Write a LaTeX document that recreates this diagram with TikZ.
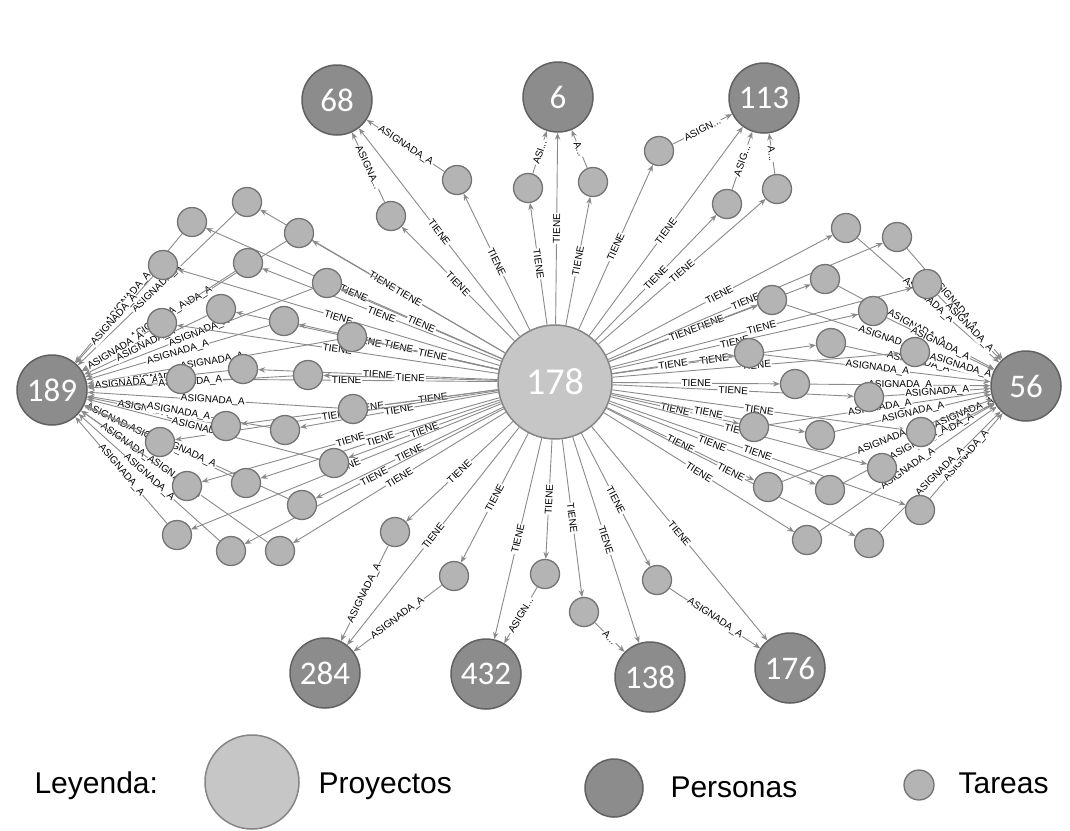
\documentclass[tikz,border=0pt]{standalone}
\usepackage{fontspec}
\setmainfont{Liberation Sans}
\newfontfamily\numfont{Carlito}
\usepackage{tikz}
\usetikzlibrary{arrows.meta,backgrounds}
\definecolor{projgray}{HTML}{C6C6C6}
\definecolor{persgray}{HTML}{8C8C8C}
\definecolor{taskgray}{HTML}{B4B4B4}
\definecolor{edgegray}{HTML}{8A8A8A}

\begin{document}
\begin{tikzpicture}[x=1pt,y=-1pt,>={Stealth[length=7pt,width=5.5pt]},
  proyecto/.style={circle,draw=black!48,line width=1.5pt,fill=projgray,minimum size=114pt,inner sep=0pt,text=white,font=\numfont\fontsize{38}{40}\selectfont},
  persona/.style={circle,draw=black!62,line width=1.5pt,fill=persgray,minimum size=70pt,inner sep=0pt,text=white,font=\numfont\fontsize{33}{35}\selectfont},
  tarea/.style={circle,draw=black!55,line width=1.3pt,fill=taskgray,minimum size=29pt,inner sep=0pt},
  rel/.style={->,draw=edgegray,line width=0.9pt},
  lbl/.style={sloped,fill=white,inner sep=0.8pt,font=\fontsize{10}{11}\selectfont},
  leyenda/.style={anchor=base west,font=\fontsize{30}{32}\selectfont}]
\useasboundingbox (0,0) rectangle (1070,830);

% proyecto y personas
\node[proyecto] (P) at (555,382) {178};
\node[persona] (U68) at (337,100) {68};
\node[persona] (U6) at (558,97) {6};
\node[persona] (U113) at (764,98) {113};
\node[persona] (U189) at (52,390) {189};
\node[persona] (U56) at (1026,386) {56};
\node[persona] (U284) at (325,673) {284};
\node[persona] (U432) at (486,674) {432};
\node[persona] (U138) at (650,677) {138};
\node[persona] (U176) at (790,668) {176};

% tareas izquierda
\node[tarea] (T1) at (247,202) {};
\node[tarea] (T2) at (192,222) {};
\node[tarea] (T3) at (299,233) {};
\node[tarea] (T4) at (163,265) {};
\node[tarea] (T5) at (248,263) {};
\node[tarea] (T6) at (327,283) {};
\node[tarea] (T7) at (162,323) {};
\node[tarea] (T8) at (221,309) {};
\node[tarea] (T9) at (284,321) {};
\node[tarea] (T10) at (352,337) {};
\node[tarea] (T11) at (243,369) {};
\node[tarea] (T12) at (181,379) {};
\node[tarea] (T13) at (308,375) {};
\node[tarea] (T14) at (353,409) {};
\node[tarea] (T15) at (226,426) {};
\node[tarea] (T16) at (285,430) {};
\node[tarea] (T17) at (160,442) {};
\node[tarea] (T18) at (334,463) {};
\node[tarea] (T19) at (246,483) {};
\node[tarea] (T20) at (187,486) {};
\node[tarea] (T21) at (302,505) {};
\node[tarea] (T22) at (177,535) {};
\node[tarea] (T23) at (231,551) {};
\node[tarea] (T24) at (280,551) {};

% tareas derecha
\node[tarea] (T25) at (846,228) {};
\node[tarea] (T26) at (897,237) {};
\node[tarea] (T27) at (825,279) {};
\node[tarea] (T28) at (772,300) {};
\node[tarea] (T29) at (927,284) {};
\node[tarea] (T30) at (873,311) {};
\node[tarea] (T31) at (831,343) {};
\node[tarea] (T32) at (749,353) {};
\node[tarea] (T33) at (915,352) {};
\node[tarea] (T34) at (795,384) {};
\node[tarea] (T35) at (869,397) {};
\node[tarea] (T36) at (754,427) {};
\node[tarea] (T37) at (820,435) {};
\node[tarea] (T38) at (921,432) {};
\node[tarea] (T39) at (882,468) {};
\node[tarea] (T40) at (768,487) {};
\node[tarea] (T41) at (830,490) {};
\node[tarea] (T42) at (920,510) {};
\node[tarea] (T43) at (807,540) {};
\node[tarea] (T44) at (869,543) {};

% tareas arriba y abajo
\node[tarea] (T45) at (457,180) {};
\node[tarea] (T46) at (391,216) {};
\node[tarea] (T47) at (528,188) {};
\node[tarea] (T48) at (593,182) {};
\node[tarea] (T49) at (659,151) {};
\node[tarea] (T50) at (727,204) {};
\node[tarea] (T51) at (777,189) {};
\node[tarea] (T52) at (395,532) {};
\node[tarea] (T53) at (454,576) {};
\node[tarea] (T54) at (545,574) {};
\node[tarea] (T55) at (584,612) {};
\node[tarea] (T56) at (657,580) {};

\begin{scope}[on background layer]
% izquierda -> 189
\draw[rel] (P) -- node[lbl] {TIENE} (T1);  \draw[rel] (T1) -- node[lbl] {ASIGNADA\_A} (U189);
\draw[rel] (P) -- node[lbl] {TIENE} (T2);  \draw[rel] (T2) -- node[lbl] {ASIGNADA\_A} (U189);
\draw[rel] (P) -- node[lbl] {TIENE} (T3);  \draw[rel] (T3) -- node[lbl] {ASIGNADA\_A} (U189);
\draw[rel] (P) -- node[lbl] {TIENE} (T4);  \draw[rel] (T4) -- node[lbl] {ASIGNADA\_A} (U189);
\draw[rel] (P) -- node[lbl] {TIENE} (T5);  \draw[rel] (T5) -- node[lbl] {ASIGNADA\_A} (U189);
\draw[rel] (P) -- node[lbl] {TIENE} (T6);  \draw[rel] (T6) -- node[lbl] {ASIGNADA\_A} (U189);
\draw[rel] (P) -- node[lbl] {TIENE} (T7);  \draw[rel] (T7) -- node[lbl] {ASIGNADA\_A} (U189);
\draw[rel] (P) -- node[lbl] {TIENE} (T8);  \draw[rel] (T8) -- node[lbl] {ASIGNADA\_A} (U189);
\draw[rel] (P) -- node[lbl] {TIENE} (T9);  \draw[rel] (T9) -- node[lbl] {ASIGNADA\_A} (U189);
\draw[rel] (P) -- node[lbl] {TIENE} (T10); \draw[rel] (T10) -- node[lbl] {ASIGNADA\_A} (U189);
\draw[rel] (P) -- node[lbl] {TIENE} (T11); \draw[rel] (T11) -- node[lbl] {ASIGNADA\_A} (U189);
\draw[rel] (P) -- node[lbl] {TIENE} (T12); \draw[rel] (T12) -- node[lbl] {ASIGNADA\_A} (U189);
\draw[rel] (P) -- node[lbl] {TIENE} (T13); \draw[rel] (T13) -- node[lbl] {ASIGNADA\_A} (U189);
\draw[rel] (P) -- node[lbl] {TIENE} (T14); \draw[rel] (T14) -- node[lbl] {ASIGNADA\_A} (U189);
\draw[rel] (P) -- node[lbl] {TIENE} (T15); \draw[rel] (T15) -- node[lbl] {ASIGNADA\_A} (U189);
\draw[rel] (P) -- node[lbl] {TIENE} (T16); \draw[rel] (T16) -- node[lbl] {ASIGNADA\_A} (U189);
\draw[rel] (P) -- node[lbl] {TIENE} (T17); \draw[rel] (T17) -- node[lbl] {ASIGNADA\_A} (U189);
\draw[rel] (P) -- node[lbl] {TIENE} (T18); \draw[rel] (T18) -- node[lbl] {ASIGNADA\_A} (U189);
\draw[rel] (P) -- node[lbl] {TIENE} (T19); \draw[rel] (T19) -- node[lbl] {ASIGNADA\_A} (U189);
\draw[rel] (P) -- node[lbl] {TIENE} (T20); \draw[rel] (T20) -- node[lbl] {ASIGNADA\_A} (U189);
\draw[rel] (P) -- node[lbl] {TIENE} (T21); \draw[rel] (T21) -- node[lbl] {ASIGNADA\_A} (U189);
\draw[rel] (P) -- node[lbl] {TIENE} (T22); \draw[rel] (T22) -- node[lbl] {ASIGNADA\_A} (U189);
\draw[rel] (P) -- node[lbl] {TIENE} (T23); \draw[rel] (T23) -- node[lbl] {ASIGNADA\_A} (U189);
\draw[rel] (P) -- node[lbl] {TIENE} (T24); \draw[rel] (T24) -- node[lbl] {ASIGNADA\_A} (U189);
% derecha -> 56
\draw[rel] (P) -- node[lbl] {TIENE} (T25); \draw[rel] (T25) -- node[lbl] {ASIGNADA\_A} (U56);
\draw[rel] (P) -- node[lbl] {TIENE} (T26); \draw[rel] (T26) -- node[lbl] {ASIGNADA\_A} (U56);
\draw[rel] (P) -- node[lbl] {TIENE} (T27); \draw[rel] (T27) -- node[lbl] {ASIGNADA\_A} (U56);
\draw[rel] (P) -- node[lbl] {TIENE} (T28); \draw[rel] (T28) -- node[lbl] {ASIGNADA\_A} (U56);
\draw[rel] (P) -- node[lbl] {TIENE} (T29); \draw[rel] (T29) -- node[lbl] {ASIGNADA\_A} (U56);
\draw[rel] (P) -- node[lbl] {TIENE} (T30); \draw[rel] (T30) -- node[lbl] {ASIGNADA\_A} (U56);
\draw[rel] (P) -- node[lbl] {TIENE} (T31); \draw[rel] (T31) -- node[lbl] {ASIGNADA\_A} (U56);
\draw[rel] (P) -- node[lbl] {TIENE} (T32); \draw[rel] (T32) -- node[lbl] {ASIGNADA\_A} (U56);
\draw[rel] (P) -- node[lbl] {TIENE} (T33); \draw[rel] (T33) -- node[lbl] {ASIGNADA\_A} (U56);
\draw[rel] (P) -- node[lbl] {TIENE} (T34); \draw[rel] (T34) -- node[lbl] {ASIGNADA\_A} (U56);
\draw[rel] (P) -- node[lbl] {TIENE} (T35); \draw[rel] (T35) -- node[lbl] {ASIGNADA\_A} (U56);
\draw[rel] (P) -- node[lbl] {TIENE} (T36); \draw[rel] (T36) -- node[lbl] {ASIGNADA\_A} (U56);
\draw[rel] (P) -- node[lbl] {TIENE} (T37); \draw[rel] (T37) -- node[lbl] {ASIGNADA\_A} (U56);
\draw[rel] (P) -- node[lbl] {TIENE} (T38); \draw[rel] (T38) -- node[lbl] {ASIGNADA\_A} (U56);
\draw[rel] (P) -- node[lbl] {TIENE} (T39); \draw[rel] (T39) -- node[lbl] {ASIGNADA\_A} (U56);
\draw[rel] (P) -- node[lbl] {TIENE} (T40); \draw[rel] (T40) -- node[lbl] {ASIGNADA\_A} (U56);
\draw[rel] (P) -- node[lbl] {TIENE} (T41); \draw[rel] (T41) -- node[lbl] {ASIGNADA\_A} (U56);
\draw[rel] (P) -- node[lbl] {TIENE} (T42); \draw[rel] (T42) -- node[lbl] {ASIGNADA\_A} (U56);
\draw[rel] (P) -- node[lbl] {TIENE} (T43); \draw[rel] (T43) -- node[lbl] {ASIGNADA\_A} (U56);
\draw[rel] (P) -- node[lbl] {TIENE} (T44); \draw[rel] (T44) -- node[lbl] {ASIGNADA\_A} (U56);
% arriba
\draw[rel] (P) -- node[lbl] {TIENE} (U68);
\draw[rel] (P) -- node[lbl] {TIENE} (T45); \draw[rel] (T45) -- node[lbl] {ASIGNADA\_A} (U68);
\draw[rel] (P) -- node[lbl] {TIENE} (T46); \draw[rel] (T46) -- node[lbl] {ASIGNA...} (U68);
\draw[rel] (P) -- node[lbl] {TIENE} (U6);
\draw[rel] (P) -- node[lbl] {TIENE} (T47); \draw[rel] (T47) -- node[lbl] {ASI...} (U6);
\draw[rel] (P) -- node[lbl] {TIENE} (T48); \draw[rel] (T48) -- node[lbl] {A...} (U6);
\draw[rel] (P) -- node[lbl] {TIENE} (U113);
\draw[rel] (P) -- node[lbl] {TIENE} (T49); \draw[rel] (T49) -- node[lbl] {ASIGN...} (U113);
\draw[rel] (P) -- node[lbl] {TIENE} (T50); \draw[rel] (T50) -- node[lbl] {ASIG...} (U113);
\draw[rel] (P) -- node[lbl] {TIENE} (T51); \draw[rel] (T51) -- node[lbl] {A...} (U113);
% abajo
\draw[rel] (P) -- node[lbl] {TIENE} (U284);
\draw[rel] (P) -- node[lbl] {TIENE} (T52); \draw[rel] (T52) -- node[lbl] {ASIGNADA\_A} (U284);
\draw[rel] (P) -- node[lbl] {TIENE} (T53); \draw[rel] (T53) -- node[lbl] {ASIGNADA\_A} (U284);
\draw[rel] (P) -- node[lbl] {TIENE} (U432);
\draw[rel] (P) -- node[lbl] {TIENE} (T54); \draw[rel] (T54) -- node[lbl] {ASIGN...} (U432);
\draw[rel] (P) -- node[lbl] {TIENE} (U138);
\draw[rel] (P) -- node[lbl] {TIENE} (T55); \draw[rel] (T55) -- node[lbl] {A...} (U138);
\draw[rel] (P) -- node[lbl] {TIENE} (U176);
\draw[rel] (P) -- node[lbl] {TIENE} (T56); \draw[rel] (T56) -- node[lbl] {ASIGNADA\_A} (U176);
\end{scope}

% leyenda
\node[leyenda] (L0) at (31,793) {Leyenda:};
\node[proyecto,minimum size=94pt] (L1) at (252,782) {};
\node[leyenda] (L2) at (315,793) {Proyectos};
\node[persona,minimum size=58pt] (L3) at (614,788) {};
\node[leyenda] (L4) at (667,797) {Personas};
\node[tarea,minimum size=30pt] (L5) at (919,785) {};
\node[leyenda] (L6) at (955,793) {Tareas};
\end{tikzpicture}
\end{document}
